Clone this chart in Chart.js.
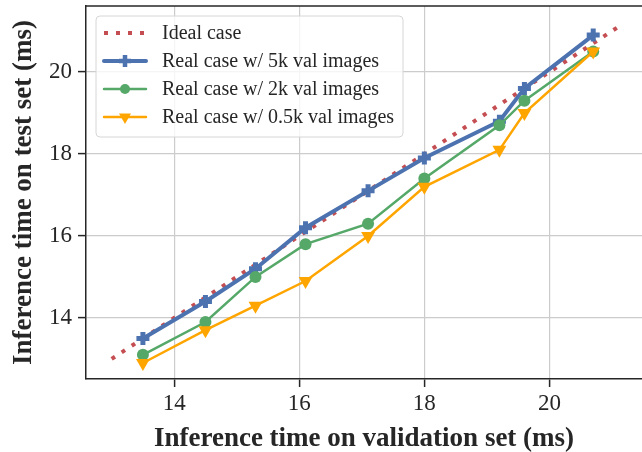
<!DOCTYPE html>
<html>
<head>
<meta charset="utf-8">
<style>
  html, body { margin: 0; padding: 0; background: #fff; }
  #wrap { width: 642px; height: 452px; }
</style>
<script src="https://cdn.jsdelivr.net/npm/chart.js@4"></script>
</head>
<body>
<div id="wrap"><canvas id="c" width="642" height="452"></canvas></div>
<script>
// ── Data ────────────────────────────────────────────────────────────
const VAL_TIMES   = [13.5, 14.5, 15.3, 16.1, 17.1, 18.0, 19.2, 19.6, 20.7];
const TEST_5K     = [13.5, 14.4, 15.2, 16.2, 17.1, 17.9, 18.8, 19.6, 20.9];
const TEST_2K     = [13.1, 13.9, 15.0, 15.8, 16.3, 17.4, 18.7, 19.3, 20.5];
const TEST_05K    = [12.9, 13.7, 14.3, 14.9, 16.0, 17.2, 18.1, 19.0, 20.5];
const IDEAL_X     = [13.0, 21.15];
const X_TICKS     = [14, 16, 18, 20];
const Y_TICKS     = [14, 16, 18, 20];
const LABELS      = ['Ideal case', 'Real case w/ 5k val images',
                     'Real case w/ 2k val images', 'Real case w/ 0.5k val images'];

const INK  = '#262626';
const FONT = "'Liberation Serif', 'DejaVu Serif', serif";

const pts = ys => VAL_TIMES.map((x, i) => ({ x, y: ys[i] }));

// Legend drawn inside the plot, matplotlib-style (line + marker sample)
function drawMarker(ctx, style, x, y, color) {
  ctx.save();
  ctx.fillStyle = color;
  ctx.strokeStyle = color;
  if (style === 'cross') {
    ctx.lineWidth = 4.5;
    ctx.beginPath();
    ctx.moveTo(x - 6, y); ctx.lineTo(x + 6, y);
    ctx.moveTo(x, y - 6); ctx.lineTo(x, y + 6);
    ctx.stroke();
  } else if (style === 'circle') {
    ctx.beginPath(); ctx.arc(x, y, 5, 0, Math.PI * 2); ctx.fill();
  } else if (style === 'triangle') {
    ctx.beginPath();
    ctx.moveTo(x - 6, y - 3.5); ctx.lineTo(x + 6, y - 3.5); ctx.lineTo(x, y + 7);
    ctx.closePath(); ctx.fill();
  }
  ctx.restore();
}

const framePlugin = {
  id: 'frame',
  afterDraw(chart) {
    const { ctx, chartArea: a } = chart;
    ctx.save();
    // top spine
    ctx.strokeStyle = INK; ctx.lineWidth = 1.5;
    ctx.beginPath(); ctx.moveTo(a.left - 0.75, a.top); ctx.lineTo(a.right, a.top); ctx.stroke();

    // legend box
    const bx = a.left + 10, by = a.top + 10, bw = 307, bh = 121, r = 4;
    ctx.beginPath();
    ctx.moveTo(bx + r, by);
    ctx.arcTo(bx + bw, by, bx + bw, by + bh, r);
    ctx.arcTo(bx + bw, by + bh, bx, by + bh, r);
    ctx.arcTo(bx, by + bh, bx, by, r);
    ctx.arcTo(bx, by, bx + bw, by, r);
    ctx.closePath();
    ctx.fillStyle = 'rgba(255,255,255,0.8)';
    ctx.fill();
    ctx.strokeStyle = '#d6d6d6'; ctx.lineWidth = 1;
    ctx.stroke();

    // legend rows in dataset order
    ctx.font = '20px ' + FONT;
    ctx.textBaseline = 'middle';
    chart.data.datasets.forEach((ds, i) => {
      const y = by + 17 + i * 28;
      const x0 = bx + 8, x1 = bx + 50;
      ctx.save();
      ctx.strokeStyle = ds.borderColor;
      ctx.lineWidth = ds.borderWidth;
      ctx.setLineDash(ds.borderDash || []);
      ctx.lineCap = ds.borderDash ? 'butt' : 'round';
      ctx.beginPath(); ctx.moveTo(x0, y); ctx.lineTo(x1, y); ctx.stroke();
      ctx.restore();
      if (ds.pointRadius) drawMarker(ctx, ds.legendMarker, (x0 + x1) / 2, y, ds.borderColor);
      ctx.fillStyle = INK;
      ctx.fillText(LABELS[i], bx + 66, y + 1);
    });
    ctx.restore();
  }
};

Chart.defaults.font.family = FONT;
Chart.defaults.color = INK;

new Chart(document.getElementById('c'), {
  type: 'line',
  data: {
    datasets: [
      {
        label: LABELS[0],
        data: IDEAL_X.map(v => ({ x: v, y: v })),
        borderColor: '#c44e52', borderWidth: 4, borderDash: [4, 8],
        borderCapStyle: 'butt', pointRadius: 0, order: 4,
      },
      {
        label: LABELS[1], data: pts(TEST_5K),
        borderColor: '#4c72b0', backgroundColor: '#4c72b0', borderWidth: 4,
        pointStyle: 'cross', pointRadius: 6.5, pointBorderWidth: 5,
        legendMarker: 'cross', order: 3,
      },
      {
        label: LABELS[2], data: pts(TEST_2K),
        borderColor: '#55a868', backgroundColor: '#55a868', borderWidth: 2.5,
        pointStyle: 'circle', pointRadius: 6, pointBorderWidth: 0,
        legendMarker: 'circle', order: 2,
      },
      {
        label: LABELS[3], data: pts(TEST_05K),
        borderColor: '#ffa500', backgroundColor: '#ffa500', borderWidth: 2.5,
        pointStyle: 'triangle', pointRadius: 8, pointRotation: 180, pointBorderWidth: 0,
        legendMarker: 'triangle', order: 1,
      },
    ],
  },
  options: {
    responsive: false,
    animation: false,
    devicePixelRatio: 1,
    layout: { autoPadding: false, padding: { top: 6, right: 0, left: 0, bottom: 0 } },
    plugins: { legend: { display: false }, tooltip: { enabled: false } },
    elements: { line: { tension: 0 } },
    scales: {
      x: {
        type: 'linear', min: 12.59, max: 21.48,
        afterBuildTicks: s => { s.ticks = X_TICKS.map(v => ({ value: v })); },
        afterFit: s => { s.height = 73; s.paddingLeft = 0; s.paddingRight = 0; },
        grid: { color: '#cccccc', lineWidth: 1.2, tickLength: 8, tickColor: INK, tickWidth: 1.5 },
        border: { display: true, color: INK, width: 1.5 },
        ticks: { font: { size: 23 }, color: INK, padding: 3 },
        title: {
          display: true, text: 'Inference time on validation set (ms)',
          font: { size: 27, weight: 'bold' }, color: INK, padding: { top: 0, bottom: -3 },
        },
      },
      y: {
        type: 'linear', min: 12.51, max: 21.61,
        afterBuildTicks: s => { s.ticks = Y_TICKS.map(v => ({ value: v })); },
        afterFit: s => { s.width = 86; s.paddingTop = 0; s.paddingBottom = 0; },
        grid: { color: '#cccccc', lineWidth: 1.2, tickLength: 8, tickColor: INK, tickWidth: 1.5 },
        border: { display: true, color: INK, width: 1.5 },
        ticks: { font: { size: 23 }, color: INK, padding: 6 },
        title: {
          display: true, text: 'Inference time on test set (ms)',
          font: { size: 27, weight: 'bold' }, color: INK, padding: { top: 8, bottom: 0 },
        },
      },
    },
  },
  plugins: [framePlugin],
});
</script>
</body>
</html>
